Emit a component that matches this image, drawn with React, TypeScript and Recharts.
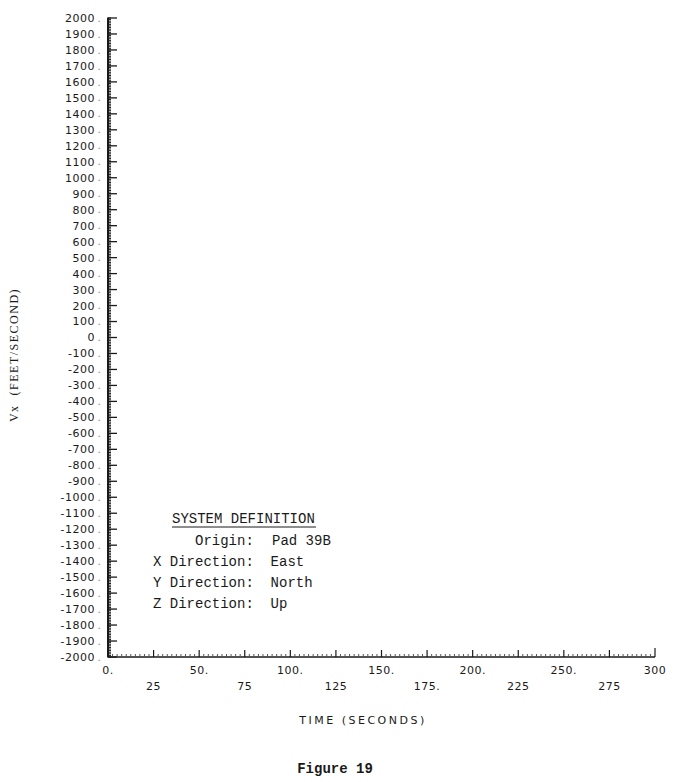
import React from 'react';
import { LineChart, XAxis, YAxis, Customized } from 'recharts';

// ---- data ----
const timeSeconds = [0, 300];
const chartData = timeSeconds.map((t) => ({ t }));

const yLabelTicks = [
  2000, 1900, 1800, 1700, 1600, 1500, 1400, 1300, 1200, 1100, 1000, 900, 800, 700, 600, 500, 400, 300, 200, 100,
  0, -100, -200, -300, -400, -500, -600, -700, -800, -900, -1000, -1100, -1200, -1300, -1400, -1500, -1600, -1700,
  -1800, -1900, -2000,
];
const yMinorTicks = Array.from({ length: 401 }, (_, i) => -2000 + i * 10);

const xRow1Labels: Record<number, string> = { 0: '0.', 50: '50.', 100: '100.', 150: '150.', 200: '200.', 250: '250.', 300: '300' };
const xRow2Labels: Record<number, string> = { 25: '25', 75: '75', 125: '125', 175: '175.', 225: '225', 275: '275' };
const xMinorTicks = Array.from({ length: 121 }, (_, i) => i * 2.5);

const systemTitle = 'SYSTEM DEFINITION';
const originLabel = 'Origin:';
const originValue = 'Pad 39B';
const directionLines = ['X Direction:  East', 'Y Direction:  North', 'Z Direction:  Up'];

const INK = '#1a1a1a';
const TICK_FONT = '"DejaVu Sans", sans-serif';
const MONO = '"Liberation Mono", "DejaVu Sans Mono", monospace';

const YTick = (props: any) => {
  const { x, y, payload } = props;
  const v = payload.value as number;
  const major = yLabelTicks.includes(v);
  return (
    <g>
      <line x1={x - 1} x2={x + 3} y1={y} y2={y} stroke={INK} strokeWidth={1} />
      {major && <line x1={x} x2={x + 9} y1={y} y2={y} stroke={INK} strokeWidth={1.3} />}
      {major && (
        <text x={x - 13} y={y} dy="0.36em" textAnchor="end" fontFamily={TICK_FONT} fontSize={11} letterSpacing={0.5} fill={INK}>
          {v}
        </text>
      )}
      {major && (
        <text x={x - 9} y={y} dy="0.36em" textAnchor="middle" fontFamily={TICK_FONT} fontSize={10} fill="#888">
          .
        </text>
      )}
    </g>
  );
};

const XTick = (props: any) => {
  const { x, y, payload } = props;
  const v = payload.value as number;
  const major = v % 25 === 0;
  const r1 = xRow1Labels[v];
  const r2 = xRow2Labels[v];
  return (
    <g>
      <line x1={x} x2={x} y1={y} y2={y - (v === 300 ? 9 : major ? 7 : 3)} stroke={major ? INK : '#555'} strokeWidth={major ? 1.2 : 1} />
      {r1 !== undefined && (
        <text x={x} y={y + 13} dy="0.36em" textAnchor="middle" fontFamily={TICK_FONT} fontSize={11} letterSpacing={0.5} fill={INK}>
          {r1}
        </text>
      )}
      {r2 !== undefined && (
        <text x={x} y={y + 29} dy="0.36em" textAnchor="middle" fontFamily={TICK_FONT} fontSize={11} letterSpacing={0.5} fill={INK}>
          {r2}
        </text>
      )}
    </g>
  );
};

const Annotations = () => (
  <g>
    <text
      x={14}
      y={355}
      transform="rotate(-90 14 355)"
      textAnchor="middle"
      dy="0.35em"
      fontFamily='"Liberation Serif", serif'
      fontSize={12}
      letterSpacing={1.5}
      fill={INK}
      style={{ whiteSpace: 'pre' }}
    >
      {'Vx  (FEET/SECOND)'}
    </text>
    <text x={363} y={724} textAnchor="middle" fontFamily={TICK_FONT} fontSize={11} letterSpacing={2.5} fill={INK}>
      TIME (SECONDS)
    </text>
    <text x={335} y={773} textAnchor="middle" fontFamily={MONO} fontWeight="bold" fontSize={14} fill={INK}>
      Figure 19
    </text>
    <text x={172} y={523} fontFamily={MONO} fontSize={14} fill={INK}>
      {systemTitle}
    </text>
    <line x1={172} x2={316} y1={527} y2={527} stroke={INK} strokeWidth={1} />
    <text x={195} y={545} fontFamily={MONO} fontSize={14} fill={INK}>
      {originLabel}
    </text>
    <text x={272} y={545} fontFamily={MONO} fontSize={14} fill={INK}>
      {originValue}
    </text>
    {directionLines.map((line, i) => (
      <text key={line} x={153} y={566 + i * 21} fontFamily={MONO} fontSize={14} fill={INK} style={{ whiteSpace: 'pre' }}>
        {line}
      </text>
    ))}
  </g>
);

export default function App() {
  return (
    <div style={{ position: 'absolute', left: 0, top: 0, width: 676, height: 782, background: '#fff' }}>
      <LineChart width={676} height={782} data={chartData} margin={{ top: 18, right: 21, bottom: 0, left: 0 }}>
        <XAxis
          dataKey="t"
          type="number"
          domain={[0, 300]}
          ticks={xMinorTicks}
          interval={0}
          height={125}
          tickSize={0}
          tickMargin={0}
          tickLine={false}
          axisLine={{ stroke: INK, strokeWidth: 1.5 }}
          tick={<XTick />}
          allowDataOverflow
        />
        <YAxis
          type="number"
          domain={[-2000, 2000]}
          ticks={yMinorTicks}
          interval={0}
          width={108}
          tickSize={0}
          tickMargin={0}
          tickLine={false}
          axisLine={{ stroke: INK, strokeWidth: 2 }}
          tick={<YTick />}
          allowDataOverflow
        />
        <Customized component={Annotations} />
      </LineChart>
    </div>
  );
}
